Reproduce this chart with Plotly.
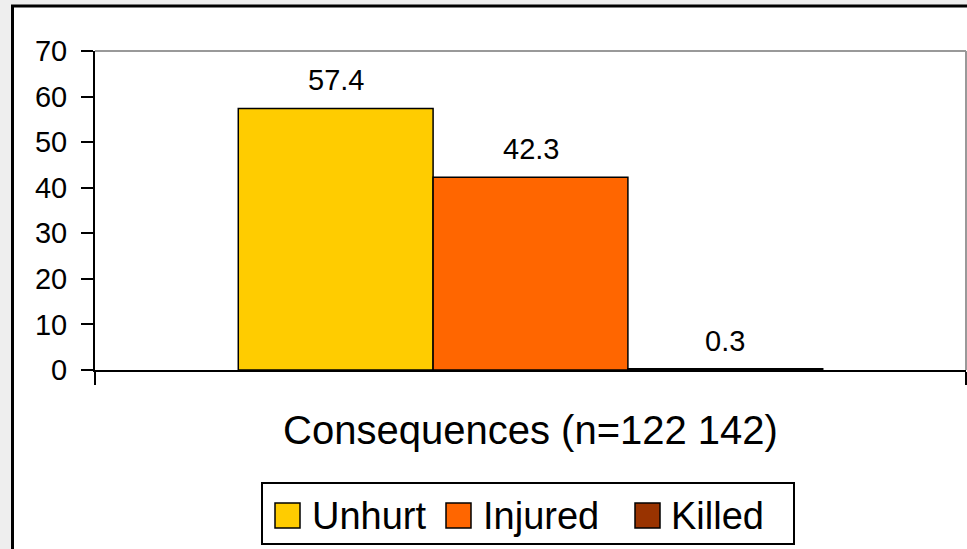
import plotly.graph_objects as go

# ---- data ----
CATEGORY = ["Consequences (n=122 142)"]
SERIES_NAMES = ["Unhurt", "Injured", "Killed"]
SERIES_VALUES = [57.4, 42.3, 0.3]
SERIES_COLORS = ["#FFCC00", "#FF6600", "#993300"]
Y_TICKS = [0, 10, 20, 30, 40, 50, 60, 70]

# ---- layout constants ----
W, H = 967, 549
ML, MR, MT, MB = 95, 1, 51, 179
PW = W - ML - MR
PH = H - MT - MB
BARGAP = 0.329
FONT = "Arial, Liberation Sans, sans-serif"


def px_x(px):
    return (px - ML) / PW


def px_y(py):
    return (H - MB - py) / PH


fig = go.Figure()
for name, val, col in zip(SERIES_NAMES, SERIES_VALUES, SERIES_COLORS):
    fig.add_trace(go.Bar(
        x=CATEGORY, y=[val], name=name,
        marker=dict(color=col, line=dict(color="black", width=1.5)),
        showlegend=False,
    ))

# data labels above bars, positioned via the group offsets
n = len(SERIES_VALUES)
group_w = 1 - BARGAP
bar_w = group_w / n
annotations = []
for i, val in enumerate(SERIES_VALUES):
    annotations.append(dict(
        x=-group_w / 2 + (i + 0.5) * bar_w, y=val, xref="x", yref="y",
        text=f"{val}", showarrow=False, yanchor="bottom", yshift=10,
        font=dict(family=FONT, size=29, color="black"),
    ))

# manual legend (large swatches)
LEG_SWATCH_X = [275, 446, 635]
LEG_TEXT_X = [310, 481, 669]
sw = 25
sy0, sy1 = 503, 528
shapes = [
    # outer white panel with black border
    dict(type="rect", xref="paper", yref="paper", layer="below",
         x0=px_x(12.5), x1=px_x(W + 20), y0=px_y(6), y1=px_y(H + 20),
         fillcolor="white", line=dict(color="black", width=3)),
    # plot frame top/right (gray)
    dict(type="line", xref="paper", yref="paper", x0=0, x1=1, y0=1, y1=1,
         line=dict(color="#999999", width=2)),
    dict(type="line", xref="paper", yref="paper", x0=1, x1=1, y0=0, y1=1,
         line=dict(color="#999999", width=2)),
    # legend box
    dict(type="rect", xref="paper", yref="paper",
         x0=px_x(262), x1=px_x(794), y0=px_y(483), y1=px_y(544),
         fillcolor="white", line=dict(color="black", width=2)),
]
for xs, xt, name, col in zip(LEG_SWATCH_X, LEG_TEXT_X, SERIES_NAMES, SERIES_COLORS):
    shapes.append(dict(type="rect", xref="paper", yref="paper",
                       x0=px_x(xs), x1=px_x(xs + sw), y0=px_y(sy1), y1=px_y(sy0),
                       fillcolor=col, line=dict(color="black", width=1.5)))
    annotations.append(dict(x=px_x(xt), y=px_y((sy0 + sy1) / 2), xref="paper", yref="paper",
                            text=name, showarrow=False, xanchor="left", yanchor="middle",
                            font=dict(family=FONT, size=38, color="black")))

fig.update_layout(
    width=W, height=H,
    margin=dict(l=ML, r=MR, t=MT, b=MB),
    paper_bgcolor="#eeeeee",
    plot_bgcolor="rgba(0,0,0,0)",
    barmode="group", bargap=BARGAP, bargroupgap=0,
    font=dict(family=FONT, color="black"),
    shapes=shapes,
    annotations=annotations,
    showlegend=False,
)
fig.update_xaxes(
    type="category", range=[-0.5, 0.5], tickson="boundaries",
    ticks="outside", ticklen=13, tickwidth=2, tickcolor="black",
    showline=True, linecolor="black", linewidth=2, showgrid=False,
    tickfont=dict(family=FONT, size=40, color="black"), ticklabelstandoff=24,
)
fig.update_yaxes(
    range=[0, 70], tickvals=Y_TICKS, ticks="outside", ticklen=12, tickwidth=2,
    tickcolor="black", showline=True, linecolor="black", linewidth=2,
    showgrid=False, zeroline=False,
    tickfont=dict(family=FONT, size=29, color="black"), ticklabelstandoff=8,
)

fig.write_html(
    "out.html",
    config={"displayModeBar": False},
    post_script="document.body.style.margin='0';document.body.style.overflow='hidden';",
)
